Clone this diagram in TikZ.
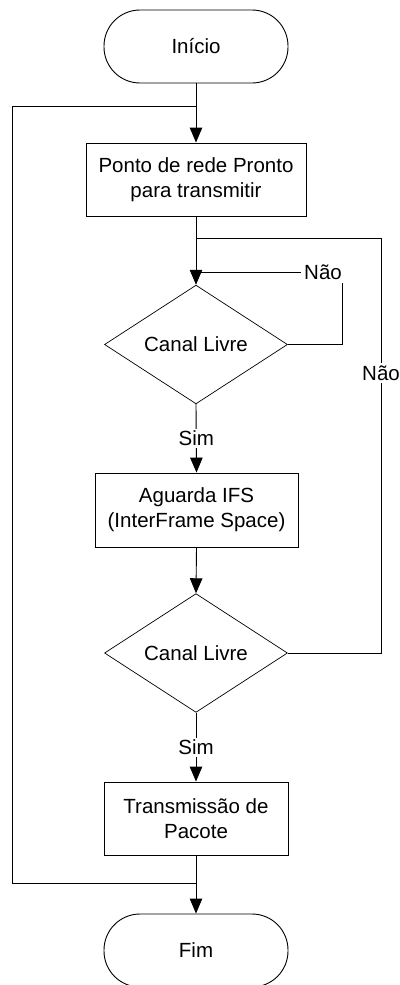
\documentclass[tikz,border=0pt]{standalone}
\usepackage{fontspec}
\setmainfont{Liberation Sans}
\usetikzlibrary{shapes.geometric,arrows.meta}
\begin{document}
\begin{tikzpicture}[x=1pt,y=-1pt,
  every node/.style={font=\fontsize{20.5}{25}\selectfont, align=center},
  terminal/.style={draw, line width=0.9pt, rounded corners=36pt, minimum width=184pt, minimum height=73pt, inner sep=0pt},
  procbox/.style={draw, line width=0.9pt, minimum height=73pt, inner sep=0pt},
  decision/.style={draw, diamond, line width=0.7pt, minimum width=183pt, minimum height=109pt, inner sep=0pt},
  flow/.style={line width=0.9pt},
  arr/.style={flow, -{Triangle[length=15pt,width=12.5pt]}},
  lbl/.style={fill=white, inner sep=3pt}
]
\useasboundingbox (0,0) rectangle (399,985);

% main column
\node[terminal] (inicio) at (196,46.5) {Início};
\node[procbox, minimum width=220pt] (b1) at (196,179.5) {Ponto de rede Pronto\\para transmitir};
\node[decision] (d1) at (196,344.5) {Canal Livre};
\node[procbox, minimum width=203pt, minimum height=74pt] (b2) at (196.5,510) {Aguarda IFS\\(InterFrame Space)};
\node[decision, minimum height=110pt] (d2) at (196,653) {Canal Livre};
\node[procbox, minimum width=184pt] (b3) at (196,818.5) {Transmissão de\\Pacote};
\node[terminal] (fim) at (196,950.5) {Fim};

% junction points of the loops
\coordinate (jtop) at (196,106);
\coordinate (jbot) at (196,883);
\coordinate (jout) at (196,238);
\coordinate (jin) at (196,272);

% straight flow
\draw[arr] (inicio.south) -- (b1.north);
\draw[arr] (b1.south) -- (d1.north);
\draw[arr] (d1.south) -- node[lbl, inner sep=2pt]{Sim} (b2.north);
\draw[arr] (b2.south) -- (d2.north);
\draw[arr] (d2.south) -- node[lbl, inner sep=2pt]{Sim} (b3.north);
\draw[arr] (b3.south) -- (fim.north);

% return loop on the left
\draw[flow] (jbot) -- (12,883) -- (12,106) -- (jtop);

% "Não" loops on the right
\draw[flow] (d1.east) -- (342,344.5) -- (342,272) -- (jin);
\node[lbl, inner sep=3.5pt] (nao1) at (323,272) {Não};
\draw[flow] (d2.east) -- (381,653) -- (381,238) -- (jout);
\node[lbl, inner sep=3pt] (nao2) at (381,373) {Não};
\end{tikzpicture}
\end{document}
